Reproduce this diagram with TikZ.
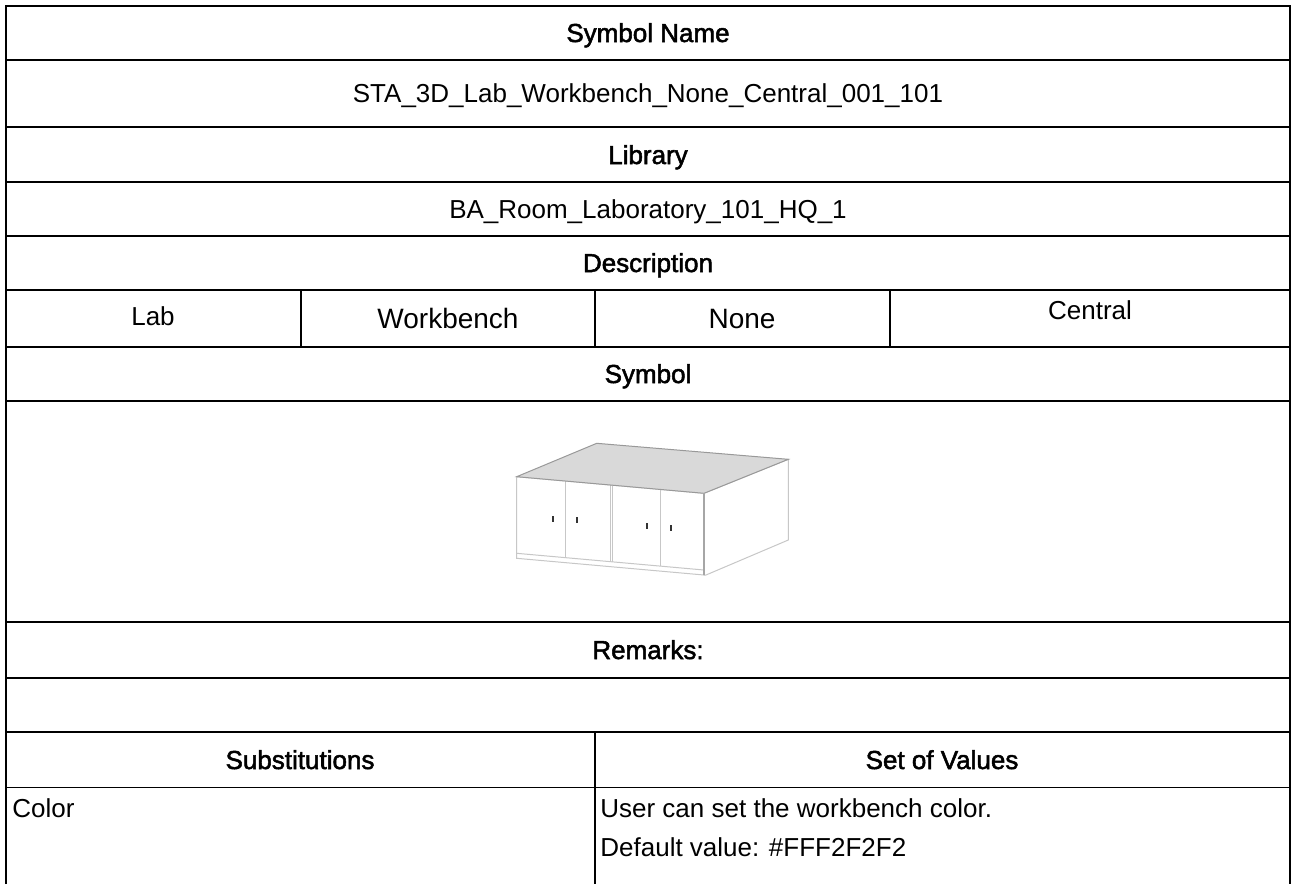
\documentclass[tikz,border=0pt]{standalone}
\usepackage{fontspec}
\setmainfont{Liberation Sans}
\newfontfamily\headfont[FakeBold=2]{Liberation Sans}
\usepackage{tikz}
\tikzstyle{head} = [font=\headfont\fontsize{13}{15}\selectfont, anchor=base, inner sep=0pt]
\tikzstyle{cell} = [font=\fontsize{13}{15}\selectfont, anchor=base, inner sep=0pt]
\tikzstyle{bigcell} = [font=\fontsize{14}{16}\selectfont, anchor=base, inner sep=0pt]
\tikzstyle{leftcell} = [font=\fontsize{13}{15}\selectfont, anchor=base west, inner sep=0pt]
\tikzstyle{rule} = [line width=1pt, black]
\tikzstyle{thinrule} = [line width=0.5pt, black]
\tikzstyle{benchline} = [line width=0.5pt, black!22]
\tikzstyle{topline} = [line width=0.5pt, black!40]
\definecolor{benchtop}{HTML}{D9D9D9}

\begin{document}
\begin{tikzpicture}[x=0.5pt, y=-0.5pt]
        \useasboundingbox (0,0) rectangle (1295,884);

        \draw [rule] (6,884) -- (6,6) -- (1290,6) -- (1290,884);
        \draw [rule] (6,60) -- (1290,60);
        \draw [rule] (6,127) -- (1290,127);
        \draw [rule] (6,182) -- (1290,182);
        \draw [rule] (6,236) -- (1290,236);
        \draw [rule] (6,290) -- (1290,290);
        \draw [rule] (6,347) -- (1290,347);
        \draw [rule] (6,401) -- (1290,401);
        \draw [rule] (6,622) -- (1290,622);
        \draw [rule] (6,678) -- (1290,678);
        \draw [rule] (6,732) -- (1290,732);
        \draw [thinrule] (6,787) -- (1290,787);
        \draw [rule] (301,290) -- (301,347);
        \draw [rule] (595,290) -- (595,347);
        \draw [rule] (890,290) -- (890,347);
        \draw [rule] (595,732) -- (595,884);

        \node (symname) [head] at (648,42) {Symbol Name};
        \node (symid) [cell] at (648,102) {STA\_3D\_Lab\_Workbench\_None\_Central\_001\_101};
        \node (library) [head] at (648,164) {Library};
        \node (libid) [cell] at (648,218) {BA\_Room\_Laboratory\_101\_HQ\_1};
        \node (descr) [head] at (648,272) {Description};
        \node (lab) [cell] at (153,325) {Lab};
        \node (bench) [bigcell] at (448,328) {Workbench};
        \node (none) [bigcell] at (742,328) {None};
        \node (central) [cell] at (1090,319) {Central};
        \node (symhead) [head] at (648,383) {Symbol};
        \node (remarks) [head] at (648,659) {Remarks:};
        \node (subst) [head] at (300,769) {Substitutions};
        \node (values) [head] at (942,769) {Set of Values};
        \node (color) [leftcell] at (12,817) {Color};
        \node (userset) [leftcell] at (600,817) {User can set the workbench color.};
        \node (default) [leftcell] at (600,856) {Default value: \#FFF2F2F2};

        \coordinate (backleft) at (596.7,443.3);
        \coordinate (backright) at (788.3,459.3);
        \coordinate (frontright) at (704,493.3);
        \coordinate (frontleft) at (516.7,476.7);
        \draw [benchline, fill=white] (frontright) -- (backright) -- (788.3,540) -- (706,575) -- (704,575) -- cycle;
        \draw [benchline, fill=white] (frontleft) -- (frontright) -- (704,575) -- (516.7,558.3) -- cycle;
        \draw [benchline] (516.7,553.3) -- (704,570);
        \draw [benchline] (565,481) -- (565,557.6);
        \draw [benchline] (610.7,485) -- (610.7,561.6);
        \draw [benchline] (612.2,485.1) -- (612.2,561.7);
        \draw [benchline] (660,489.4) -- (660,566);
        \draw [topline, fill=benchtop] (frontleft) -- (backleft) -- (backright) -- (frontright) -- cycle;
        \draw [line width=0.7pt, black!35] (frontright) -- (704,575);
        \fill [black!80] (552.3,515.5) rectangle (554.4,521.5);
        \fill [black!80] (575.7,517.2) rectangle (577.8,523.2);
        \fill [black!80] (646.3,523.2) rectangle (648.4,529.2);
        \fill [black!80] (670,524.9) rectangle (672.1,530.9);
    \end{tikzpicture}
\end{document}
